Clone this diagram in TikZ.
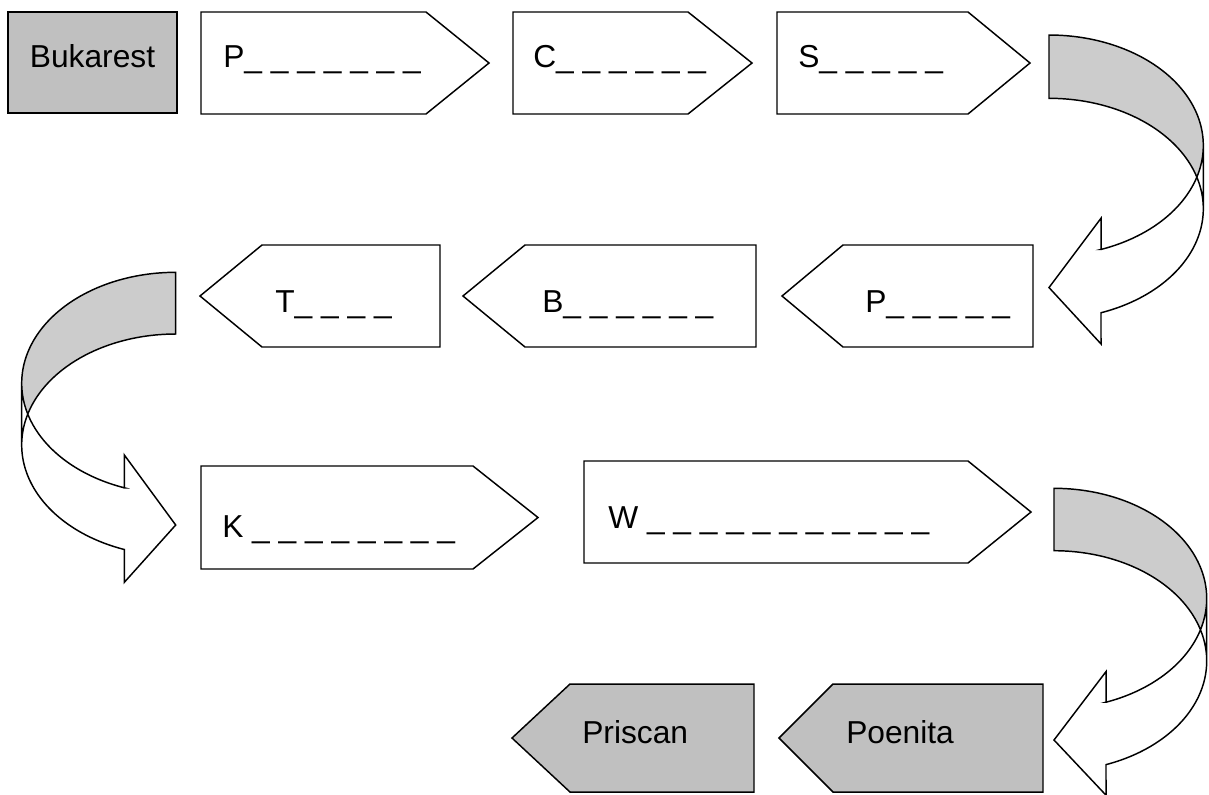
\documentclass[tikz,border=0pt]{standalone}
\usepackage{fontspec}
\setmainfont{Liberation Sans}
\definecolor{boxgray}{HTML}{C0C0C0}
\definecolor{backgray}{HTML}{CCCCCC}
\tikzset{
  outline/.style={draw=black, line width=1.1pt, line join=miter},
  graybox/.style={outline, fill=boxgray},
  whitebox/.style={outline, fill=white},
  lbl/.style={font=\fontsize{23.8}{28}\selectfont, inner sep=0pt, anchor=base west},
}
% pentagon: x of flat side, top y, bottom y, shoulder x, tip x, style
\newcommand\pentbox[6]{%
  \draw[#6] (#1,#2) -- (#4,#2) -- (#5,{(#2+#3)/2}) -- (#4,#3) -- (#1,#3) -- cycle;}
% curved arrow: tail x, top y, width (signed), height, thickness, head width, head length (signed)
\newcommand\curvarrow[7]{%
  \pgfmathsetmacro\cvL{#1}%
  \pgfmathsetmacro\cvT{#2}%
  \pgfmathsetmacro\cvW{#3}%
  \pgfmathsetmacro\cvH{#4}%
  \pgfmathsetmacro\cvTh{#5}%
  \pgfmathsetmacro\cvAw{#6}%
  \pgfmathsetmacro\cvAh{#7}%
  \pgfmathsetmacro\cvHR{\cvH/2-(\cvTh+\cvAw)/4}%
  \pgfmathsetmacro\cvYa{\cvT+\cvHR}%
  \pgfmathsetmacro\cvYb{\cvYa+\cvTh}%
  \pgfmathsetmacro\cvAng{acos((\cvAh)/(\cvW))}%
  \pgfmathsetmacro\cvX{\cvL+(\cvAh)}%
  \pgfmathsetmacro\cvYv{\cvYa+\cvHR*sin(\cvAng)}%
  \pgfmathsetmacro\cvYvii{\cvYb+\cvHR*sin(\cvAng)}%
  \pgfmathsetmacro\cvDh{(\cvAw-\cvTh)/2}%
  \pgfmathsetmacro\cvYiv{\cvYv-\cvDh}%
  \pgfmathsetmacro\cvYviii{\cvYvii+\cvDh}%
  \pgfmathsetmacro\cvYvi{\cvT+\cvH-\cvAw/2}%
  \fill[backgray] plot[domain=-90:0] ({\cvL+(\cvW)*cos(\x)},{\cvYa+\cvHR*sin(\x)})
     -- plot[domain=0:-90] ({\cvL+(\cvW)*cos(\x)},{\cvYb+\cvHR*sin(\x)}) -- cycle;
  \fill[white] plot[domain=0:\cvAng] ({\cvL+(\cvW)*cos(\x)},{\cvYa+\cvHR*sin(\x)})
     -- (\cvX,\cvYiv) -- (\cvL,\cvYvi) -- (\cvX,\cvYviii) -- (\cvX,\cvYvii)
     -- plot[domain=\cvAng:0] ({\cvL+(\cvW)*cos(\x)},{\cvYb+\cvHR*sin(\x)}) -- cycle;
  \draw[outline] plot[domain=0:-90] ({\cvL+(\cvW)*cos(\x)},{\cvYb+\cvHR*sin(\x)})
     -- (\cvL,\cvT)
     -- plot[domain=-90:0] ({\cvL+(\cvW)*cos(\x)},{\cvYa+\cvHR*sin(\x)})
     -- plot[domain=0:\cvAng] ({\cvL+(\cvW)*cos(\x)},{\cvYb+\cvHR*sin(\x)})
     -- (\cvX,\cvYviii) -- (\cvL,\cvYvi) -- (\cvX,\cvYiv) -- (\cvX,\cvYv)
     -- plot[domain=\cvAng:0] ({\cvL+(\cvW)*cos(\x)},{\cvYa+\cvHR*sin(\x)});
}
\begin{document}
\begin{tikzpicture}[x=0.75pt,y=-0.75pt,samples=60]
\useasboundingbox (0,0) rectangle (1209,794);
\fill[white] (0,0) rectangle (1209,794);
% row 1
\draw[graybox] (8,12) rectangle (177,113);
\pentbox{201}{12}{114}{426}{489}{whitebox}
\pentbox{513}{12}{114}{688}{752}{whitebox}
\pentbox{777}{12}{114}{968}{1030}{whitebox}
\node[lbl, anchor=base] (bukarest) at (92.5,67) {Bukarest};
\node[lbl] (p1) at (223,67) {P\_ \_ \_ \_ \_ \_ \_};
\node[lbl] (c1) at (533,67) {C\_ \_ \_ \_ \_ \_};
\node[lbl] (s1) at (798,67) {S\_ \_ \_ \_ \_};
% curved arrow right top
\curvarrow{1049}{35}{154.3}{315.4}{63.3}{125.7}{52}
% row 2
\pentbox{440}{245}{347}{262}{200}{whitebox}
\pentbox{756}{245}{347}{525}{463}{whitebox}
\pentbox{1033}{245}{347}{843}{782}{whitebox}
\node[lbl] (t1) at (275,312) {T\_ \_ \_ \_};
\node[lbl] (b1) at (542,312) {B\_ \_ \_ \_ \_ \_};
\node[lbl] (p2) at (865,312) {P\_ \_ \_ \_ \_};
% curved arrow left
\curvarrow{175.7}{272.3}{-154}{316.4}{61.7}{127.4}{-51.4}
% row 3
\pentbox{201}{466}{569}{473}{538}{whitebox}
\pentbox{584}{461}{563}{968}{1031}{whitebox}
\node[lbl] (k1) at (222,537) {K \_ \_ \_ \_ \_ \_ \_ \_};
\node[lbl] (w1) at (608,528) {W \_ \_ \_ \_ \_ \_ \_ \_ \_ \_ \_};
% curved arrow right bottom
\curvarrow{1054}{488.3}{152.7}{313.5}{62.4}{123.6}{52}
% row 4
\pentbox{754}{684}{792}{570}{512}{graybox}
\pentbox{1043}{684}{792}{833}{779}{graybox}
\node[lbl] (priscan) at (582,743) {Priscan};
\node[lbl] (poenita) at (846,743) {Poenita};
\end{tikzpicture}
\end{document}
